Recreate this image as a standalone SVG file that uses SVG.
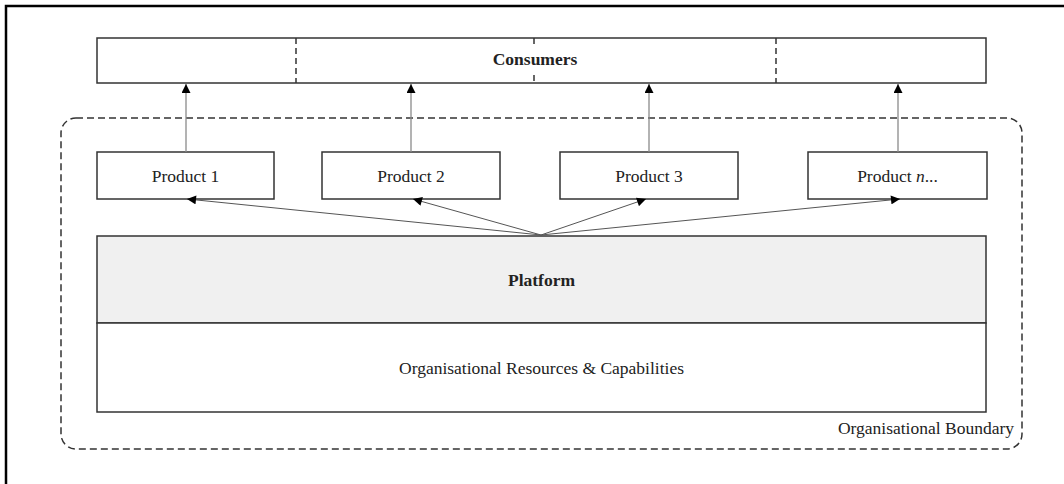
<svg xmlns="http://www.w3.org/2000/svg" width="1064" height="484" viewBox="0 0 1064 484">
  <style>
    .box { fill: #ffffff; stroke: #333333; stroke-width: 1.5; }
    .plat { fill: #f0f0f0; stroke: #333333; stroke-width: 1.5; }
    .lbl { font-family: "Liberation Serif", "Times New Roman", serif; font-size: 17.5px; fill: #222222; text-anchor: middle; }
    .bold { font-weight: bold; }
    .div { stroke: #333333; stroke-width: 1.5; stroke-dasharray: 6 4; fill: none; }
    .up { stroke: #8a8a8a; stroke-width: 1.3; fill: none; marker-end: url(#head); }
    .fan { stroke: #555555; stroke-width: 1; fill: none; marker-end: url(#head); }
  </style>
  <defs>
    <marker id="head" viewBox="0 0 10 10" refX="10" refY="5" markerWidth="10" markerHeight="9" markerUnits="userSpaceOnUse" orient="auto">
      <path d="M0,0 L10,5 L0,10 Z" fill="#000000"/>
    </marker>
  </defs>

  <rect width="1064" height="484" fill="#ffffff"/>

  <!-- page frame (top and left edges only) -->
  <path d="M6,484 L6,6 L1064,6" fill="none" stroke="#000000" stroke-width="2.5"/>

  <!-- organisational boundary -->
  <g id="boundary">
    <rect x="61" y="118" width="961" height="331" rx="15" ry="15" fill="none" stroke="#333333" stroke-width="1.5" stroke-dasharray="7 4"/>
    <text class="lbl" x="1014" y="434" style="text-anchor:end">Organisational Boundary</text>
  </g>

  <!-- consumers band -->
  <g id="consumers">
    <rect class="box" x="97" y="38" width="889" height="45"/>
    <line class="div" x1="296" y1="38" x2="296" y2="83"/>
    <line class="div" x1="534" y1="38" x2="534" y2="44"/>
    <line class="div" x1="534" y1="75" x2="534" y2="83"/>
    <line class="div" x1="776" y1="38" x2="776" y2="83"/>
    <text class="lbl bold" x="535" y="65">Consumers</text>
  </g>

  <!-- products -->
  <g id="product1">
    <rect class="box" x="97" y="152" width="177" height="47"/>
    <text class="lbl" x="185.5" y="182">Product 1</text>
  </g>
  <g id="product2">
    <rect class="box" x="322" y="152" width="178" height="47"/>
    <text class="lbl" x="411" y="182">Product 2</text>
  </g>
  <g id="product3">
    <rect class="box" x="560" y="152" width="178" height="47"/>
    <text class="lbl" x="649" y="182">Product 3</text>
  </g>
  <g id="productn">
    <rect class="box" x="808" y="152" width="179" height="47"/>
    <text class="lbl" x="897.5" y="182">Product <tspan font-style="italic">n</tspan>...</text>
  </g>

  <!-- platform and resources -->
  <g id="platform">
    <rect class="plat" x="97" y="236" width="889" height="87"/>
    <text class="lbl bold" x="541.5" y="286">Platform</text>
  </g>
  <g id="resources">
    <rect class="box" x="97" y="323" width="889" height="89"/>
    <text class="lbl" x="541.5" y="374">Organisational Resources &amp; Capabilities</text>
  </g>

  <!-- connectors -->
  <g id="connectors">
    <line class="up" x1="186" y1="152" x2="186" y2="84" stroke="#6e6e6e"/>
    <line class="up" x1="411" y1="152" x2="411" y2="84"/>
    <line class="up" x1="649" y1="152" x2="649" y2="84"/>
    <line class="up" x1="898" y1="152" x2="898" y2="84"/>

    <line class="fan" x1="541" y1="235" x2="187" y2="199"/>
    <line class="fan" x1="541" y1="235" x2="413" y2="199"/>
    <line class="fan" x1="541" y1="235" x2="646" y2="199"/>
    <line class="fan" x1="541" y1="235" x2="900" y2="199"/>
  </g>
</svg>
